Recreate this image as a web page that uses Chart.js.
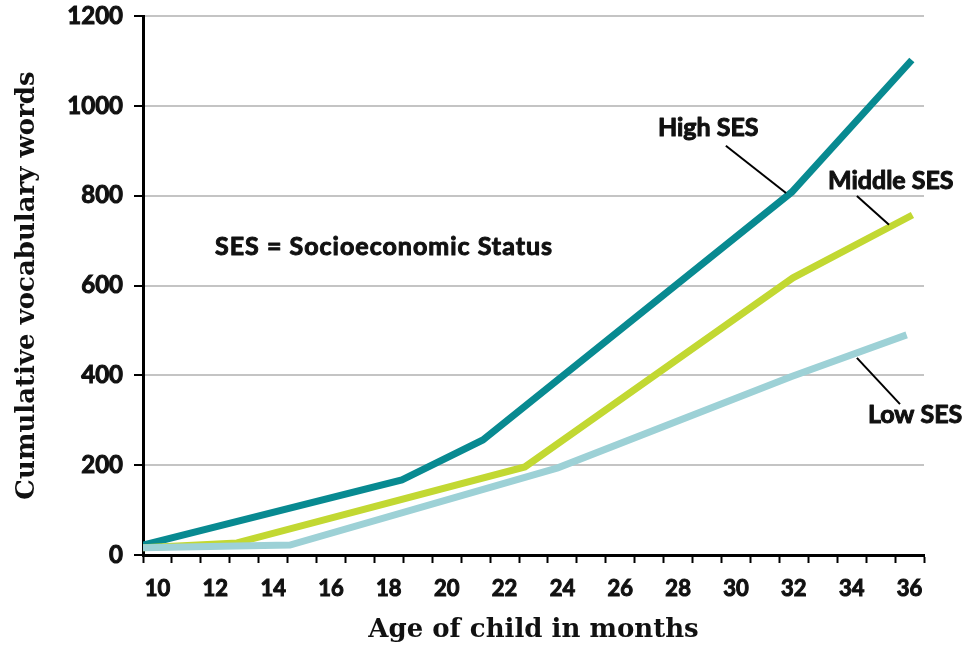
<!DOCTYPE html>
<html>
<head>
<meta charset="utf-8">
<script src="https://cdn.jsdelivr.net/npm/chart.js@4.4.1/dist/chart.umd.min.js"></script>
<style>
  html, body { margin: 0; padding: 0; background: #ffffff; }
  #wrap { position: relative; width: 970px; height: 646px; }
</style>
</head>
<body>
<div id="wrap"><canvas id="c" width="970" height="646"></canvas></div>
<script>
// ---- Data ----
const highMonths   = [10, 18.95, 21.75, 32.43, 36.58];
const highWords    = [22, 167, 256, 808, 1102];
const middleMonths = [10, 13.25, 23.2, 32.47, 36.6];
const middleWords  = [16, 27, 196, 617, 757];
const lowMonths    = [10, 15.08, 24.34, 32.4, 36.4];
const lowWords     = [16, 22, 194, 397, 490];

const seriesNames  = ['High SES', 'Middle SES', 'Low SES'];
const seriesColors = ['#088a91', '#c2d832', '#9dd1d6'];

const xMin = 10, xMax = 37;
const yMin = 0, yMax = 1200, yStep = 200;

const xTitle = 'Age of child in months';
const yTitle = 'Cumulative vocabulary words';

// annotation labels (data coordinates)
const noteTexts  = ['SES = Socioeconomic Status', 'High SES', 'Middle SES', 'Low SES'];
const noteX      = [12.49, 27.8, 33.68, 35.06];
const noteY      = [686, 951, 833, 312];
// leader lines: [x1, y1, x2, y2] in data coordinates
const leaderLines = [
  [30.15, 911, 32.23, 806],
  [34.68, 799, 35.79, 735],
  [34.68, 439, 36.17, 336]
];

function pts(xs, ys) { return xs.map((x, i) => ({ x: x, y: ys[i] })); }

const sansBold = '"Lato", "Open Sans", sans-serif';
const serifBold = '"DejaVu Serif", "Liberation Serif", serif';

const notesPlugin = {
  id: 'notes',
  afterDatasetsDraw(chart) {
    const ctx = chart.ctx;
    const xs = chart.scales.x, ys = chart.scales.y;
    ctx.save();
    ctx.strokeStyle = '#000';
    ctx.lineWidth = 2;
    leaderLines.forEach(l => {
      ctx.beginPath();
      ctx.moveTo(xs.getPixelForValue(l[0]), ys.getPixelForValue(l[1]));
      ctx.lineTo(xs.getPixelForValue(l[2]), ys.getPixelForValue(l[3]));
      ctx.stroke();
    });
    ctx.fillStyle = '#111';
    ctx.strokeStyle = '#111';
    ctx.lineWidth = 1;
    ctx.lineJoin = 'round';
    ctx.font = 'bold 25px ' + sansBold;
    ctx.textAlign = 'left';
    ctx.textBaseline = 'middle';
    noteTexts.forEach((t, i) => {
      const px = xs.getPixelForValue(noteX[i]), py = ys.getPixelForValue(noteY[i]);
      if ('letterSpacing' in ctx) ctx.letterSpacing = (i === 0) ? '1px' : '0px';
      ctx.fillText(t, px, py);
      ctx.strokeText(t, px, py);
    });
    ctx.restore();
  }
};

const datasets = [
  { label: seriesNames[0], data: pts(highMonths, highWords) },
  { label: seriesNames[1], data: pts(middleMonths, middleWords) },
  { label: seriesNames[2], data: pts(lowMonths, lowWords) }
].map((d, i) => Object.assign(d, {
  borderColor: seriesColors[i],
  backgroundColor: seriesColors[i],
  borderWidth: 7,
  pointRadius: 0,
  pointHoverRadius: 0,
  tension: 0,
  fill: false,
  borderCapStyle: 'butt',
  borderJoinStyle: 'miter'
}));
datasets.reverse(); // draw High on top

new Chart(document.getElementById('c'), {
  type: 'line',
  data: { datasets: datasets },
  plugins: [notesPlugin],
  options: {
    responsive: false,
    animation: false,
    events: [],
    layout: { padding: { top: 16, right: 46, bottom: 0, left: 0 } },
    plugins: { legend: { display: false }, tooltip: { enabled: false } },
    scales: {
      x: {
        type: 'linear',
        min: xMin, max: xMax,
        afterFit(s) { s.height = 91; s.paddingLeft = 0; s.paddingRight = 0; },
        afterBuildTicks(s) {
          const t = [];
          for (let v = xMin; v <= xMax; v++) t.push({ value: v });
          s.ticks = t;
        },
        ticks: {
          autoSkip: false,
          maxRotation: 0,
          stepSize: 1,
          labelOffset: 14.46,
          padding: 13,
          color: '#111',
          textStrokeColor: '#111',
          textStrokeWidth: 1,
          font: { family: sansBold, weight: 'bold', size: 22 },
          callback: (v) => (v % 2 === 0 && v <= 36) ? String(v) : ''
        },
        grid: { drawOnChartArea: false, drawTicks: true, tickLength: 8, tickColor: '#000', tickWidth: 2 },
        border: { display: true, color: '#000', width: 3 },
        title: {
          display: true, text: xTitle, color: '#111',
          font: { family: serifBold, weight: 'bold', size: 26 },
          padding: { top: 0, bottom: 0 }
        }
      },
      y: {
        type: 'linear',
        min: yMin, max: yMax,
        afterFit(s) { s.width = 143; s.paddingTop = 0; s.paddingBottom = 0; },
        ticks: {
          stepSize: yStep,
          padding: 11,
          color: '#111',
          textStrokeColor: '#111',
          textStrokeWidth: 1,
          font: { family: sansBold, weight: 'bold', size: 24 },
          callback: (v) => String(v)
        },
        grid: { color: '#c4c4c4', lineWidth: 2, drawTicks: true, tickLength: 9, tickColor: '#000', tickWidth: 2 },
        border: { display: true, color: '#000', width: 3 },
        title: {
          display: true, text: yTitle, color: '#111',
          font: { family: serifBold, weight: 'bold', size: 26 },
          padding: { top: 12, bottom: 0 }
        }
      }
    }
  }
});
</script>
</body>
</html>
